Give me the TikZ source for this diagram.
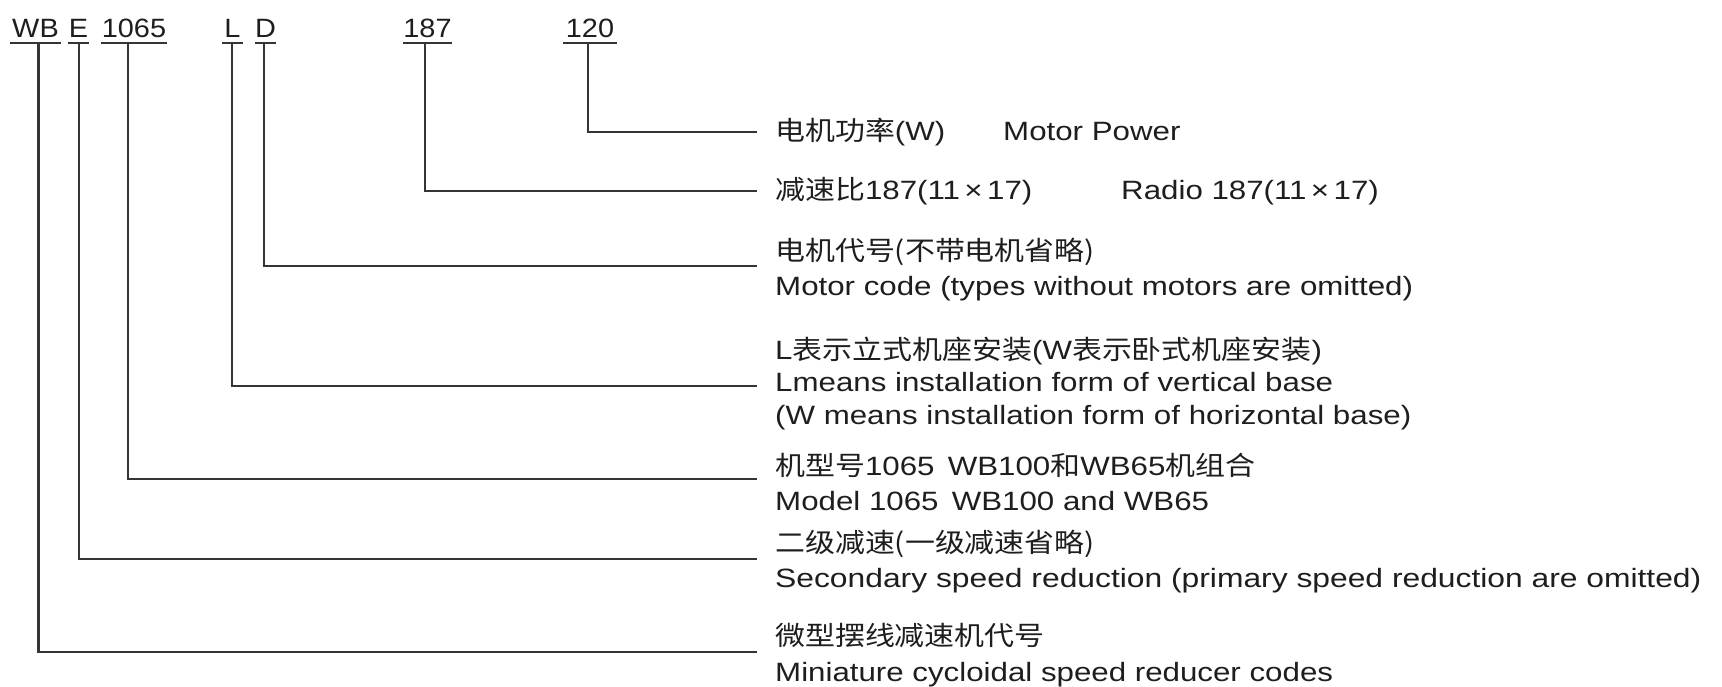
\documentclass[tikz,border=0pt]{standalone}
\usepackage{fontspec}
\setmainfont[FakeStretch=1.18]{Liberation Sans}
\newfontfamily\zhfont[FakeStretch=1.13]{Noto Sans CJK SC}
\newfontfamily\codefont[FakeStretch=1.09]{Liberation Sans}
\newfontfamily\widefont[FakeStretch=1.2]{Liberation Sans}
\newcommand{\zh}[1]{{\zhfont #1}}
\definecolor{ink}{HTML}{1E1E1E}

\begin{document}
\begin{tikzpicture}[x=1pt, y=-1pt,
    code/.style={anchor=base, inner sep=0pt, text depth=6pt, font=\codefont\fontsize{26.5}{30}\selectfont, text=ink},
    desc/.style={anchor=base west, inner sep=0pt, font=\fontsize{26.5}{30}\selectfont, text=ink},
    lead/.style={draw=ink!90, line width=2.5pt}]
    \useasboundingbox[fill=white] (0,0) rectangle (1722,686);

    % Code parts
    \node[code, minimum width=51pt] (wb) at (35.5, 37) {WB};
    \node[code, minimum width=21pt] (e) at (78.5, 37) {E};
    \node[code, minimum width=66pt] (n1065) at (134, 37) {1065};
    \node[code, minimum width=21pt] (l) at (232.5, 37) {L};
    \node[code, minimum width=21pt] (d) at (265.5, 37) {D};
    \node[code, minimum width=49pt] (n187) at (427.5, 37) {187};
    \node[code, minimum width=54pt] (n120) at (590, 37) {120};

    % Underlines
    \foreach \c in {wb, e, n1065, l, d, n187, n120}
        \draw[lead] (\c.south west) -- (\c.south east);

    % Line ends
    \coordinate (e120) at (757, 132);
    \coordinate (e187) at (757, 191);
    \coordinate (ed) at (757, 266);
    \coordinate (el) at (757, 386);
    \coordinate (e1065) at (757, 479);
    \coordinate (ee) at (757, 559);
    \coordinate (ewb) at (757, 652);

    % Leaders
    \draw[lead] ([xshift=-2pt]n120.south) |- (e120);
    \draw[lead] ([xshift=-2.5pt]n187.south) |- (e187);
    \draw[lead] ([xshift=-1.5pt]d.south) |- (ed);
    \draw[lead] ([xshift=-0.5pt]l.south) |- (el);
    \draw[lead] ([xshift=-6pt]n1065.south) |- (e1065);
    \draw[lead] ([xshift=0.5pt]e.south) |- (ee);
    \draw[lead] ([xshift=3pt]wb.south) |- (ewb);

    % Descriptions
    \node[desc] (t120) at (775, 140) {\zh{电机功率}(W)};
    \node[desc] (t120en) at (1003, 140) {Motor Power};

    \node[desc] (t187) at (775, 199) {\zh{减速比}187(11\,×\,17)};
    \node[desc] (t187en) at (1121, 199) {Radio 187(11\,×\,17)};

    \node[desc] (td) at (775, 260) {\zh{电机代号(不带电机省略)}};
    \node[desc] (tden) at (775, 295) {Motor code (types without motors are omitted)};

    \node[desc] (tl) at (775, 359) {L\zh{表示立式机座安装}(W\zh{表示卧式机座安装})};
    \node[desc] (tlen) at (775, 391) {Lmeans installation form of vertical base};
    \node[desc] (tlen2) at (775, 424) {(W means installation form of horizontal base)};

    \node[desc] (t1065) at (775, 475) {\zh{机型号}1065\enspace WB100\zh{和}WB65\zh{机组合}};
    \node[desc] (t1065en) at (775, 510) {Model 1065\enspace WB100 and WB65};

    \node[desc] (te) at (775, 552) {\zh{二级减速(一级减速省略)}};
    \node[desc] (teen) at (775, 587) {\widefont Secondary speed reduction (primary speed reduction are omitted)};

    \node[desc] (twb) at (775, 645) {\zh{微型摆线减速机代号}};
    \node[desc] (twben) at (775, 681) {Miniature cycloidal speed reducer codes};
\end{tikzpicture}
\end{document}
